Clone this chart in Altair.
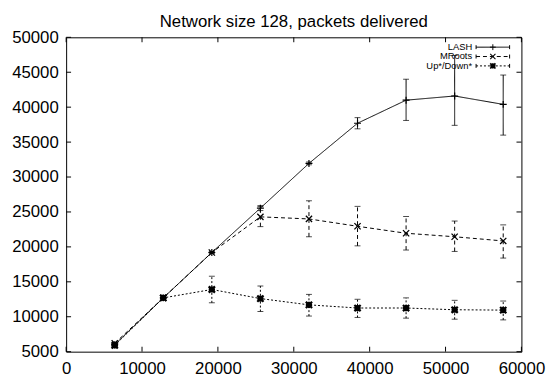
import altair as alt
import pandas as pd

# ---- data ----
x_vals = [6400, 12800, 19200, 25600, 32000, 38400, 44800, 51200, 57600]

lash = [6000, 12700, 19200, 25550, 31950, 37700, 41000, 41600, 40400]
lash_lo = [5900, 12600, 19100, 25200, 31750, 36900, 38100, 37400, 36000]
lash_hi = [6100, 12800, 19300, 25900, 32150, 38500, 44000, 47400, 44600]

mroots = [6200, 12700, 19200, 24300, 24000, 22950, 21950, 21450, 20850]
mroots_lo = [6100, 12600, 19100, 22900, 21450, 20150, 19550, 19350, 18400]
mroots_hi = [6300, 12800, 19300, 25800, 26600, 25800, 24350, 23700, 23150]

updown = [5900, 12700, 13900, 12600, 11700, 11250, 11250, 11000, 10950]
updown_lo = [5800, 12600, 12000, 10750, 10100, 9900, 9800, 9650, 9550]
updown_hi = [6000, 12800, 15800, 14400, 13200, 12500, 12700, 12350, 12250]

series_names = ["LASH", "MRoots", "Up*/Down*"]
x_ticks = [0, 10000, 20000, 30000, 40000, 50000, 60000]
y_ticks = [5000, 10000, 15000, 20000, 25000, 30000, 35000, 40000, 45000, 50000]
title_text = "Network size 128, packets delivered"

W, H = 462, 319
FONT = "Liberation Sans"

xs = alt.Scale(domain=[0, 60000], nice=False, zero=False)
ys = alt.Scale(domain=[5000, 50000], nice=False, zero=False)
AX = alt.Axis(values=x_ticks, format="d", title=None, labelPadding=9)
AY = alt.Axis(values=y_ticks, format="d", title=None, labelPadding=8)


def X(f):
    return alt.X(f, scale=xs, axis=AX)


def Y(f):
    return alt.Y(f, scale=ys, axis=AY)


PLUS = "M-1,0L1,0M0,-1L0,1"
CROSS = "M-1,-1L1,1M-1,1L1,-1"
STAR = "M-1,0L1,0M0,-1L0,1M-1,-1L1,1M-1,1L1,-1"

styles = {
    "LASH": dict(dash=[1, 0], shape=PLUS, size=50, sw=1.2),
    "MRoots": dict(dash=[4, 3], shape=CROSS, size=40, sw=1.3),
    "Up*/Down*": dict(dash=[2, 2], shape=STAR, size=40, sw=2.2),
}
vals = {
    "LASH": (lash, lash_lo, lash_hi),
    "MRoots": (mroots, mroots_lo, mroots_hi),
    "Up*/Down*": (updown, updown_lo, updown_hi),
}

# inward ticks on all four sides, drawn as rules from the tick lists
xdf = pd.DataFrame({"v": x_ticks})
ydf = pd.DataFrame({"v": y_ticks})
x_bot = alt.Chart(xdf).mark_rule(color="black", strokeWidth=1).encode(
    x=X("v:Q"), y=alt.value(H), y2=alt.value(H - 5))
x_top = alt.Chart(xdf).mark_rule(color="black", strokeWidth=1).encode(
    x=X("v:Q"), y=alt.value(0), y2=alt.value(5))
y_left = alt.Chart(ydf).mark_rule(color="black", strokeWidth=1).encode(
    y=Y("v:Q"), x=alt.value(0), x2=alt.value(5))
y_right = alt.Chart(ydf).mark_rule(color="black", strokeWidth=1).encode(
    y=Y("v:Q"), x=alt.value(W), x2=alt.value(W - 5))

layers = []
for name in series_names:
    v, lo, hi = vals[name]
    st = styles[name]
    df = pd.DataFrame({"x": x_vals, "y": v, "lo": lo, "hi": hi})
    base = alt.Chart(df)
    line = base.mark_line(color="black", strokeWidth=1, strokeDash=st["dash"]).encode(
        x=X("x:Q"), y=Y("y:Q"))
    err = base.mark_rule(color="black", strokeWidth=1, strokeDash=st["dash"]).encode(
        x=X("x:Q"), y=Y("lo:Q"), y2="hi:Q")
    cap_lo = base.mark_tick(color="black", orient="horizontal", size=6, thickness=1).encode(
        x=X("x:Q"), y=Y("lo:Q"))
    cap_hi = base.mark_tick(color="black", orient="horizontal", size=6, thickness=1).encode(
        x=X("x:Q"), y=Y("hi:Q"))
    pts = base.mark_point(shape=st["shape"], size=st["size"], color="black", filled=False,
                          strokeWidth=st["sw"], opacity=1).encode(
        x=X("x:Q"), y=Y("y:Q"))
    layers += [line, err, cap_lo, cap_hi, pts]

# manual gnuplot-style key
leg_layers = []
for i, name in enumerate(series_names):
    st = styles[name]
    yy = 10 + i * 9.5
    ldf = pd.DataFrame({"s": [name]})
    b = alt.Chart(ldf)
    leg_layers.append(b.mark_text(align="right", baseline="middle", font=FONT, fontSize=9.5,
                                  color="black").encode(text="s:N", x=alt.value(412), y=alt.value(yy)))
    leg_layers.append(b.mark_rule(color="black", strokeWidth=1, strokeDash=st["dash"]).encode(
        x=alt.value(416), x2=alt.value(450), y=alt.value(yy)))
    leg_layers.append(b.mark_rule(color="black", strokeWidth=1).encode(
        x=alt.value(416), y=alt.value(yy - 2), y2=alt.value(yy + 2)))
    leg_layers.append(b.mark_rule(color="black", strokeWidth=1).encode(
        x=alt.value(450), y=alt.value(yy - 2), y2=alt.value(yy + 2)))
    leg_layers.append(b.mark_point(shape=st["shape"], size=st["size"] * 0.7, color="black",
                                   filled=False, strokeWidth=st["sw"] * 0.8, opacity=1).encode(
        x=alt.value(433), y=alt.value(yy)))

# chart title as a text mark above the frame
title_layer = alt.Chart(pd.DataFrame({"t": [title_text]})).mark_text(
    align="center", baseline="alphabetic", font=FONT, fontSize=17, color="black"
).encode(text="t:N", x=alt.value(W / 2), y=alt.value(-10))

chart = alt.layer(x_bot, x_top, y_left, y_right, *layers, *leg_layers, title_layer).properties(
    width=W, height=H,
    autosize="none",
    background="white",
    padding={"left": 59, "top": 27, "right": 29, "bottom": 26},
).configure_view(stroke="black", strokeWidth=1).configure_axis(
    domain=False, ticks=False, grid=False, labelFont=FONT, labelFontSize=17,
    labelColor="black", labelFlush=False, labelOverlap=False,
)

chart.save("out.html", embed_options={"renderer": "svg", "actions": False})
